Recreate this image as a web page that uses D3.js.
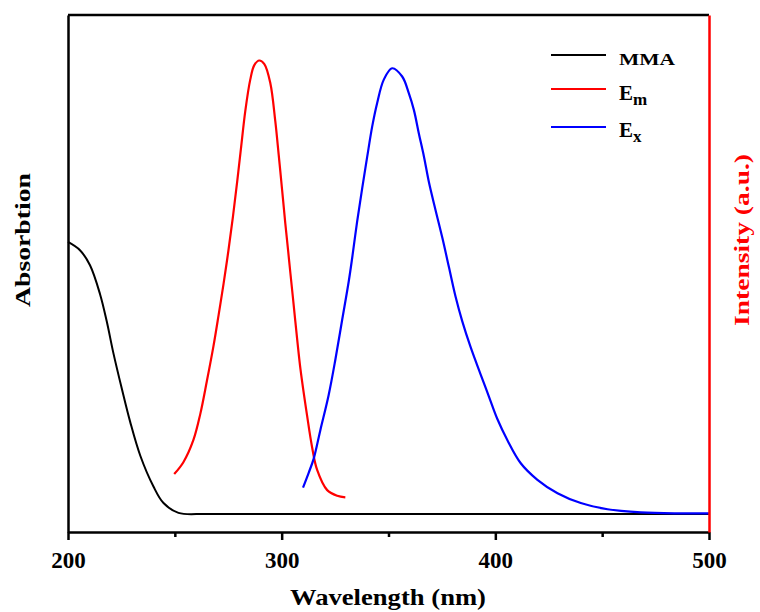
<!DOCTYPE html>
<html>
<head>
<meta charset="utf-8">
<script src="https://cdn.jsdelivr.net/npm/d3@7"></script>
<style>
html,body{margin:0;padding:0;background:#fff;}
svg{display:block;}
text{font-family:"Liberation Serif","Times New Roman",serif;font-weight:bold;}
</style>
</head>
<body>
<svg id="chart" width="760" height="612"></svg>
<script>
// ---- data (wavelength nm, normalized signal) ----
const mmaWavelength = [200.0,205.6,210.3,215.0,218.1,221.3,225.2,229.1,233.8,240.0,244.7,251.7,265,300,350,400,450,500];
const mmaAbsorption = [0.561,0.545,0.516,0.460,0.408,0.345,0.277,0.213,0.148,0.088,0.056,0.037,0.035,0.035,0.035,0.035,0.035,0.035];

const emWavelength = [249.7,254.0,258.7,261.9,265.0,268.1,270.5,272.8,275.1,277.2,279.1,280.9,283.0,285.3,287.2,289.5,291.9,294.7,297.0,298.6,300.2,301.7,303.0,304.1,305.6,307.2,308.8,311.9,314.2,316.6,321.3,326.0,329.8];
const emIntensity  = [0.112,0.135,0.178,0.228,0.292,0.360,0.420,0.480,0.545,0.610,0.675,0.740,0.815,0.875,0.903,0.912,0.905,0.868,0.795,0.730,0.662,0.597,0.545,0.500,0.440,0.375,0.315,0.225,0.165,0.120,0.081,0.070,0.067];

const exWavelength = [310.0,312.6,315.0,318.1,322.0,325.2,328.3,331.4,333.0,335.3,337.7,340.0,342.4,344.7,347.8,351.7,356.4,359.5,361.9,364.2,366.6,368.9,372.0,375.2,378.3,381.4,384.5,388.4,393.1,397.0,401.0,405.6,411.9,419.7,429.1,440.0,452.5,468.1,484.0,500.0];
const exIntensity  = [0.086,0.114,0.142,0.197,0.265,0.335,0.410,0.485,0.530,0.600,0.665,0.725,0.785,0.830,0.875,0.897,0.881,0.849,0.816,0.771,0.726,0.677,0.623,0.569,0.512,0.455,0.408,0.358,0.305,0.262,0.218,0.178,0.133,0.101,0.075,0.056,0.044,0.038,0.036,0.036];

const xTickValues = [200,300,400,500];
const xMinorTicks = [250,350,450];
const legendLabels = [
  {main:"MMA", sub:"", color:"#000000"},
  {main:"E", sub:"m", color:"#ff0000"},
  {main:"E", sub:"x", color:"#0000ff"}
];

// ---- layout ----
const L = 68, R = 709, T = 15, B = 532;
const svg = d3.select("#chart");

const x = d3.scaleLinear().domain([200,500]).range([L,R]);
const yAbs = d3.scaleLinear().domain([0,1]).range([B,T]);
const yInt = d3.scaleLinear().domain([0,1]).range([B,T]);

const zip = (a,b) => a.map((v,i)=>[v,b[i]]);
const lineAbs = d3.line().x(d=>x(d[0])).y(d=>yAbs(d[1])).curve(d3.curveCatmullRom.alpha(0.5));
const lineInt = d3.line().x(d=>x(d[0])).y(d=>yInt(d[1])).curve(d3.curveCatmullRom.alpha(0.5));

// series
svg.append("path").datum(zip(mmaWavelength,mmaAbsorption))
  .attr("d",lineAbs).attr("fill","none").attr("stroke","#000").attr("stroke-width",2);
svg.append("path").datum(zip(emWavelength,emIntensity))
  .attr("d",lineInt).attr("fill","none").attr("stroke","#ff0000").attr("stroke-width",2.2);
svg.append("path").datum(zip(exWavelength,exIntensity))
  .attr("d",lineInt).attr("fill","none").attr("stroke","#0000ff").attr("stroke-width",2.2);

// top border
svg.append("line").attr("x1",L).attr("x2",R).attr("y1",T).attr("y2",T)
  .attr("stroke","#000").attr("stroke-width",2.5);

// left axis (no ticks)
const gL = svg.append("g").attr("transform",`translate(${L},0)`)
  .call(d3.axisLeft(yAbs).tickValues([]).tickSizeOuter(0));
gL.select(".domain").attr("stroke","#000").attr("stroke-width",2.5);

// bottom axis minor
const gMinor = svg.append("g").attr("transform",`translate(0,${B})`)
  .call(d3.axisBottom(x).tickValues(xMinorTicks).tickSize(5).tickFormat(""));
gMinor.select(".domain").remove();
gMinor.selectAll(".tick line").attr("stroke","#000").attr("stroke-width",2.5);

// bottom axis major
const gB = svg.append("g").attr("transform",`translate(0,${B})`)
  .call(d3.axisBottom(x).tickValues(xTickValues).tickSize(8).tickSizeOuter(0).tickPadding(12).tickFormat(d3.format("d")));
gB.select(".domain").attr("stroke","#000").attr("stroke-width",2.5);
gB.selectAll(".tick line").attr("stroke","#000").attr("stroke-width",2.5);
gB.selectAll(".tick text").attr("font-size","23px").attr("fill","#000")
  .style("font-family","'Liberation Serif',serif").style("font-weight","bold");

// right axis red (no ticks)
const gR = svg.append("g").attr("transform",`translate(${R},0)`)
  .call(d3.axisRight(yInt).tickValues([]).tickSizeOuter(0));
gR.select(".domain").attr("stroke","#ff0000").attr("stroke-width",2.5);

// axis titles
svg.append("text").attr("x",(290+486)/2).attr("y",605).attr("text-anchor","middle")
  .attr("font-size","23px").attr("fill","#000")
  .attr("textLength",196).attr("lengthAdjust","spacingAndGlyphs")
  .text("Wavelength (nm)");

svg.append("text").attr("transform","translate(30,240) rotate(-90)").attr("text-anchor","middle")
  .attr("font-size","21px").attr("fill","#000")
  .attr("textLength",134).attr("lengthAdjust","spacingAndGlyphs")
  .text("Absorbtion");

svg.append("text").attr("transform","translate(749,240) rotate(-90)").attr("text-anchor","middle")
  .attr("font-size","21px").attr("fill","#ff0000")
  .attr("textLength",172).attr("lengthAdjust","spacingAndGlyphs")
  .text("Intensity (a.u.)");

// legend
const legY = [55,89,127];
const legBase = [65,100,137];
legendLabels.forEach((d,i)=>{
  const g = svg.append("g");
  g.append("line").attr("x1",551).attr("x2",606).attr("y1",legY[i]).attr("y2",legY[i])
    .attr("stroke",d.color).attr("stroke-width",2.2);
  const t = g.append("text").attr("x",619).attr("y",legBase[i]).attr("fill","#000");
  if(d.sub){
    t.attr("font-size","21px");
    t.append("tspan").text(d.main);
    t.append("tspan").attr("dy",5).attr("font-size","17px").text(d.sub);
  } else {
    t.attr("font-size","17px").attr("textLength",56).attr("lengthAdjust","spacingAndGlyphs").text(d.main);
  }
});
</script>
</body>
</html>
